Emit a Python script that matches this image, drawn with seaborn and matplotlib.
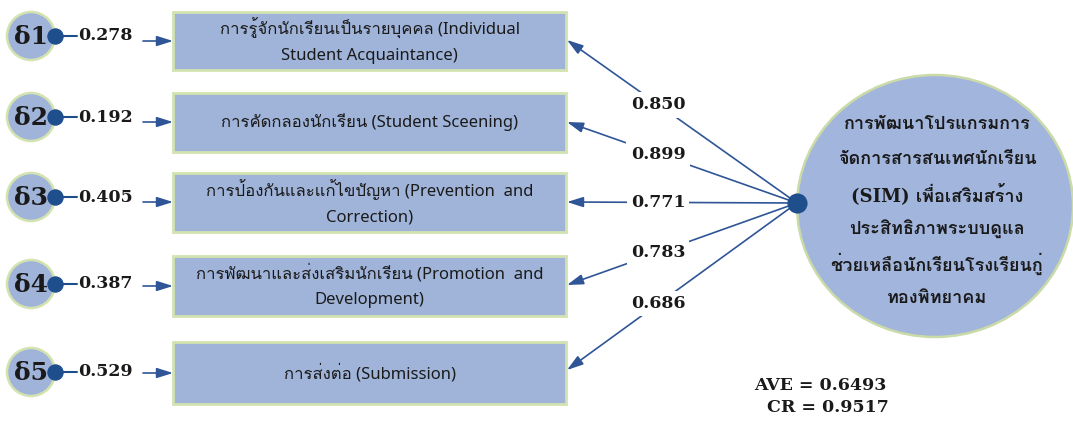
# plot.py
# 측정모형 경로도 (SIM 프로그램) - seaborn + matplotlib 재현
import numpy as np
import seaborn as sns
import matplotlib.pyplot as plt
from matplotlib import font_manager
from matplotlib.patches import Circle, Ellipse, Rectangle, FancyArrowPatch

# ----------------------------------------------------------
# data
# ----------------------------------------------------------
delta_labels = ['δ1', 'δ2', 'δ3', 'δ4', 'δ5']
error_values = [0.278, 0.192, 0.405, 0.387, 0.529]
indicator_labels = [
    'การรู้จักนักเรียนเป็นรายบุคคล (Individual\nStudent Acquaintance)',
    'การคัดกลองนักเรียน (Student Sceening)',
    'การป้องกันและแก้ไขปัญหา (Prevention  and\nCorrection)',
    'การพัฒนาและส่งเสริมนักเรียน (Promotion  and\nDevelopment)',
    'การส่งต่อ (Submission)',
]
loadings = [0.850, 0.899, 0.771, 0.783, 0.686]
construct_lines = ['การพัฒนาโปรแกรมการ', 'จัดการสารสนเทศนักเรียน', '(SIM) เพื่อเสริมสร้าง',
                   'ประสิทธิภาพระบบดูแล', 'ช่วยเหลือนักเรียนโรงเรียนกู่', 'ทองพิทยาคม']
ave = 0.6493
cr = 0.9517

# ----------------------------------------------------------
# fonts: find something with Thai glyphs
# ----------------------------------------------------------
def find_font(ch):
    try:
        from fontTools.ttLib import TTFont
    except Exception:
        return None
    for f in font_manager.fontManager.ttflist:
        try:
            cmap = TTFont(f.fname, fontNumber=0, lazy=True).getBestCmap()
        except Exception:
            continue
        if cmap and ord(ch) in cmap:
            return f.name
    return None

thai_font = find_font('ก')
sans_fam = ['Noto Sans', 'DejaVu Sans']
serif_fam = ['DejaVu Serif', 'DejaVu Sans']
if thai_font:
    sans_fam.insert(1, thai_font)
    serif_fam.insert(1, thai_font)

sns.set_theme(style='white')
plt.rcParams['font.family'] = sans_fam

# ----------------------------------------------------------
# layout (pixel coordinates)
# ----------------------------------------------------------
box_y = [41, 122, 202, 286, 373]
box_h = [58, 59, 59, 60, 62]
delta_y = [36, 117, 197, 284, 372]
box_x0, box_x1 = 173, 566
hub = (797, 203)
construct_y = [124, 159, 194, 229, 264, 298]

box_fill = '#a0b4da'
box_edge = '#d3e3b0'
dark = '#1f4e8c'
arrow_c = '#2f5597'
text_c = '#1a1a1a'

fig = plt.figure(figsize=(10.73, 4.21), dpi=100)
ax = fig.add_axes([0, 0, 1, 1])
ax.set_xlim(0, 1073)
ax.set_ylim(421, 0)
ax.axis('off')

def arrow(p0, p1, z=2):
    a = FancyArrowPatch(p0, p1, arrowstyle='-|>,head_length=0.7,head_width=0.22',
                        mutation_scale=14, color=arrow_c, lw=1.2, zorder=z,
                        shrinkA=0, shrinkB=0)
    ax.add_patch(a)

# error terms
for lab, val, dy, by in zip(delta_labels, error_values, delta_y, box_y):
    ax.add_patch(Circle((31, dy), 24, facecolor=box_fill, edgecolor=box_edge, lw=1.8, zorder=2))
    ax.text(31, dy + 1, lab, ha='center', va='center', fontsize=18, fontweight='bold',
            family=serif_fam, color=text_c, zorder=4)
    ax.plot([58, 77], [dy, dy], color=dark, lw=1.5, zorder=3)
    ax.text(78, dy, f'{val:.3f}', ha='left', va='center', fontsize=12.5, fontweight='bold',
            family=serif_fam, color=text_c, zorder=4)
    arrow((143, by), (box_x0, by))

sns.scatterplot(x=[55] * len(delta_y), y=delta_y, s=120, color=dark, edgecolor=dark,
                ax=ax, zorder=5, legend=False)

# indicator boxes
for lab, by, bh in zip(indicator_labels, box_y, box_h):
    ax.add_patch(Rectangle((box_x0, by - bh / 2), box_x1 - box_x0, bh, facecolor=box_fill,
                           edgecolor=box_edge, lw=2, zorder=2))
    ax.text((box_x0 + box_x1) / 2, by, lab, ha='center', va='center', fontsize=12,
            linespacing=1.8, color=text_c, zorder=4)

# latent construct
ax.add_patch(Ellipse((935, 206), 276, 262, facecolor='#a2b5dc', edgecolor='#cadba8',
                     lw=1.8, zorder=2))
for line, cy in zip(construct_lines, construct_y):
    ax.text(937, cy, line, ha='center', va='center', fontsize=13, fontweight='bold',
            family=serif_fam, color=text_c, zorder=4)

# loadings
tips = [40, 122, 202, 285, 370]
lab_x = 658
for val, ty in zip(loadings, tips):
    arrow(hub, (box_x1 + 1, ty))
    t = (hub[0] - lab_x) / (hub[0] - box_x1)
    ly = hub[1] + t * (ty - hub[1])
    ax.text(lab_x, ly, f'{val:.3f}', ha='center', va='center', fontsize=12.5,
            fontweight='bold', family=serif_fam, color=text_c, zorder=4,
            bbox=dict(facecolor='white', edgecolor='none', pad=3))

sns.scatterplot(x=[hub[0]], y=[hub[1]], s=180, color=dark, edgecolor=dark,
                ax=ax, zorder=5, legend=False)

ax.text(820, 385, f'AVE = {ave:.4f}', ha='center', va='center', fontsize=12.5,
        fontweight='bold', family=serif_fam, color=text_c)
ax.text(828, 408, f'CR = {cr:.4f}', ha='center', va='center', fontsize=12.5,
        fontweight='bold', family=serif_fam, color=text_c)

ax.set_xlim(0, 1073)
ax.set_ylim(421, 0)
ax.axis('off')
fig.savefig('out.png', dpi=100, facecolor='white')
